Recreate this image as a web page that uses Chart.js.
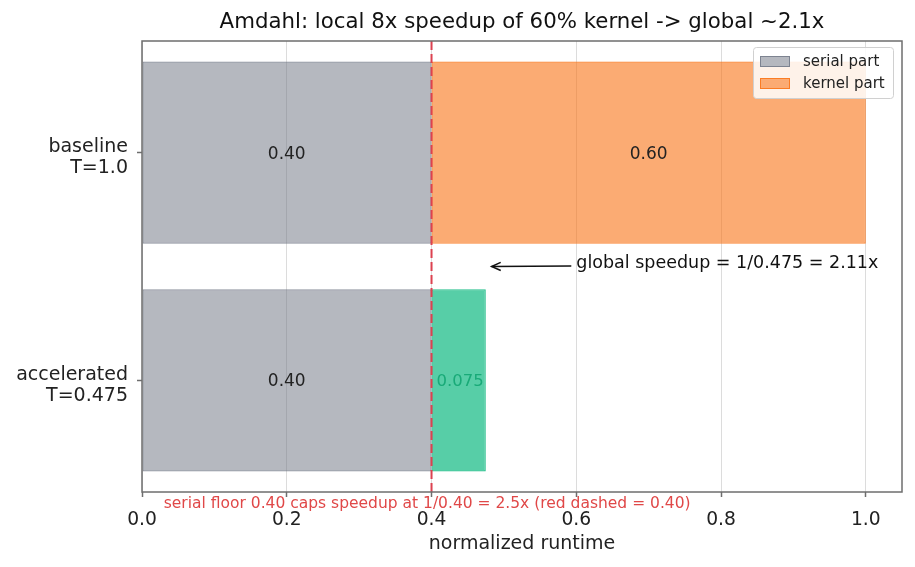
<!DOCTYPE html>
<html>
<head>
<meta charset="utf-8">
<script src="https://cdn.jsdelivr.net/npm/chart.js@4/dist/chart.umd.min.js"></script>
<style>
  html, body { margin: 0; padding: 0; background: #ffffff; }
  #wrap { width: 915px; height: 567px; position: relative; }
</style>
</head>
<body>
<div id="wrap"><canvas id="c" width="915" height="567"></canvas></div>
<script>
// ---- data ----
const categories = [["baseline", "T=1.0"], ["accelerated", "T=0.475"]];
const seriesNames = ["serial part", "kernel part"];
const serialValues = [0.40, 0.40];
const kernelValues = [0.60, 0.075];
const serialLabels = ["0.40", "0.40"];
const kernelLabels = ["0.60", "0.075"];
const xTickValues = [0.0, 0.2, 0.4, 0.6, 0.8, 1.0];
const serialFloor = 0.40;
const titleText = "Amdahl: local 8x speedup of 60% kernel -> global ~2.1x";
const xAxisTitle = "normalized runtime";
const arrowText = "global speedup = 1/0.475 = 2.11x";
const footText = "serial floor 0.40 caps speedup at 1/0.40 = 2.5x (red dashed = 0.40)";

// ---- styles ----
const FONT = "'DejaVu Sans', sans-serif";
const greyFill = "rgba(107,114,128,0.5)";
const greyEdge = "rgba(107,114,128,0.75)";
const orangeFill = "rgba(249,115,22,0.6)";
const orangeEdge = "rgba(249,115,22,0.85)";
const greenFill = "rgba(16,185,129,0.7)";
const greenEdge = "rgba(16,185,129,0.9)";
const redColor = "#dc4250";
const spineColor = "#6e6e6e";

const overlay = {
  id: 'overlay',
  afterDatasetsDraw(chart) {
    const ctx = chart.ctx;
    const xs = chart.scales.x, ys = chart.scales.y;
    const a = chart.chartArea;
    ctx.save();

    // bar value labels
    ctx.font = "17px " + FONT;
    ctx.textBaseline = "middle";
    for (let i = 0; i < serialValues.length; i++) {
      const yc = ys.getPixelForValue(i) + 1.5;
      ctx.fillStyle = "#222";
      ctx.textAlign = "center";
      ctx.fillText(serialLabels[i], xs.getPixelForValue(serialValues[i] / 2), yc);
      if (i === 0) {
        ctx.fillText(kernelLabels[i], xs.getPixelForValue(serialValues[i] + kernelValues[i] / 2), yc);
      } else {
        ctx.fillStyle = "rgb(25,170,120)";
        ctx.textAlign = "left";
        ctx.font = "16.5px " + FONT;
        ctx.fillText(kernelLabels[i], xs.getPixelForValue(serialValues[i]) + 5, yc);
        ctx.font = "17px " + FONT;
      }
    }

    // red dashed line at serial floor
    const xf = xs.getPixelForValue(serialFloor);
    ctx.strokeStyle = redColor;
    ctx.lineWidth = 2;
    ctx.setLineDash([9, 4]);
    ctx.beginPath();
    ctx.moveTo(xf, a.top);
    ctx.lineTo(xf, a.bottom);
    ctx.stroke();
    ctx.setLineDash([]);

    // arrow annotation
    const tx = xs.getPixelForValue(0.6), ty = ys.getPixelForValue(0.487);
    const hx = xs.getPixelForValue(0.483), hy = ys.getPixelForValue(0.5);
    ctx.fillStyle = "#111";
    ctx.font = "17.5px " + FONT;
    ctx.textAlign = "left";
    ctx.textBaseline = "middle";
    ctx.fillText(arrowText, tx, ty);
    const sx = tx - 5, sy = ty + 2.5;
    ctx.strokeStyle = "#111";
    ctx.lineWidth = 1.5;
    ctx.beginPath();
    ctx.moveTo(sx, sy);
    ctx.lineTo(hx, hy);
    ctx.stroke();
    const ang = Math.atan2(hy - sy, hx - sx);
    const L = 10, W = 0.42;
    ctx.beginPath();
    ctx.moveTo(hx - L * Math.cos(ang - W), hy - L * Math.sin(ang - W));
    ctx.lineTo(hx, hy);
    ctx.lineTo(hx - L * Math.cos(ang + W), hy - L * Math.sin(ang + W));
    ctx.stroke();

    // axes box
    ctx.strokeStyle = spineColor;
    ctx.lineWidth = 1.5;
    ctx.strokeRect(a.left, a.top, a.right - a.left, a.bottom - a.top);

    // footnote
    ctx.fillStyle = "#e04848";
    ctx.font = "15.5px " + FONT;
    ctx.textAlign = "center";
    ctx.textBaseline = "middle";
    ctx.fillText(footText, xs.getPixelForValue(0.394), a.bottom + 12);

    // title
    ctx.fillStyle = "#111";
    ctx.font = "21.3px " + FONT;
    ctx.textAlign = "center";
    ctx.textBaseline = "middle";
    ctx.fillText(titleText, (a.left + a.right) / 2, 22.5);

    // legend
    const lx = a.right - 149, ly = a.top + 6, lw = 140, lh = 51;
    ctx.fillStyle = "rgba(255,255,255,0.85)";
    ctx.strokeStyle = "#d0d0d0";
    ctx.lineWidth = 1;
    ctx.beginPath();
    if (ctx.roundRect) ctx.roundRect(lx + 0.5, ly + 0.5, lw, lh, 3); else ctx.rect(lx + 0.5, ly + 0.5, lw, lh);
    ctx.fill();
    ctx.stroke();
    const fills = [greyFill, orangeFill], edges = [greyEdge, orangeEdge];
    ctx.font = "15px " + FONT;
    ctx.textAlign = "left";
    for (let k = 0; k < seriesNames.length; k++) {
      const py = ly + 9 + k * 22;
      ctx.fillStyle = "#fff";
      ctx.fillRect(lx + 7, py, 30, 11);
      ctx.fillStyle = fills[k];
      ctx.fillRect(lx + 7, py, 30, 11);
      ctx.strokeStyle = edges[k];
      ctx.strokeRect(lx + 7.5, py + 0.5, 29, 10);
      ctx.fillStyle = "#222";
      ctx.fillText(seriesNames[k], lx + 50, py + 6);
    }
    ctx.restore();
  }
};

const chart = new Chart(document.getElementById('c'), {
  type: 'bar',
  data: {
    datasets: [
      {
        label: seriesNames[0],
        data: serialValues.map((v, i) => ({ x: v, y: i })),
        backgroundColor: greyFill,
        borderColor: greyEdge,
        borderWidth: 1.2,
        borderSkipped: false
      },
      {
        label: seriesNames[1],
        data: kernelValues.map((v, i) => ({ x: v, y: i })),
        backgroundColor: [orangeFill, greenFill],
        borderColor: [orangeEdge, greenEdge],
        borderWidth: 1.2,
        borderSkipped: false
      }
    ]
  },
  options: {
    indexAxis: 'y',
    responsive: false,
    animation: false,
    devicePixelRatio: 1,
    categoryPercentage: 1.0,
    barPercentage: 0.8,
    layout: { padding: { top: 41, right: 13, left: 0, bottom: 0 } },
    plugins: { legend: { display: false }, title: { display: false }, tooltip: { enabled: false } },
    scales: {
      x: {
        type: 'linear',
        stacked: true,
        min: 0,
        max: 1.05,
        afterBuildTicks: (s) => { s.ticks = xTickValues.map(v => ({ value: v })); },
        afterFit: (s) => { s.height = 75; },
        border: { display: false },
        grid: { color: '#dcdcdc', lineWidth: 1, drawTicks: true, tickLength: 5, tickColor: spineColor, tickWidth: 1.5 },
        ticks: { color: '#222', font: { family: FONT, size: 18.7 }, padding: 12, maxRotation: 0,
                 callback: (v) => Number(v).toFixed(1) },
        title: { display: true, text: xAxisTitle, color: '#222', font: { family: FONT, size: 19 }, padding: { top: 2, bottom: 12 } }
      },
      y: {
        type: 'linear',
        stacked: true,
        reverse: true,
        offset: false,
        min: -0.49,
        max: 1.49,
        afterBuildTicks: (s) => { s.ticks = categories.map((c, i) => ({ value: i })); },
        afterFit: (s) => { s.width = 142; },
        border: { display: false },
        grid: { display: true, offset: false, drawOnChartArea: false, drawTicks: true, tickLength: 5, tickColor: spineColor, tickWidth: 1.5 },
        ticks: { color: '#222', font: { family: FONT, size: 19, lineHeight: 1.08 }, padding: 9, labelOffset: 5,
                 callback: (v) => categories[v] }
      }
    }
  },
  plugins: [overlay]
});
</script>
</body>
</html>
